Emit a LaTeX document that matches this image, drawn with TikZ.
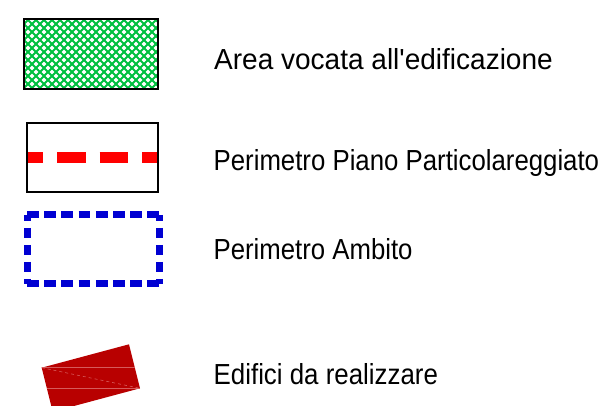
\documentclass[tikz,border=0pt]{standalone}
\usepackage{fontspec}
\setmainfont{Liberation Sans}
\definecolor{areagreen}{RGB}{0,192,64}
\definecolor{ppred}{RGB}{255,0,0}
\definecolor{ambblue}{RGB}{0,0,210}
\definecolor{edred}{RGB}{184,0,0}
\definecolor{edline}{RGB}{214,90,90}
\tikzset{
  lbl/.style={anchor=base west, inner sep=0pt, font=\fontsize{29}{34}\selectfont},
  frame/.style={black, line width=2pt},
  ambside/.style={ambblue, line width=7pt},
}
\begin{document}
\begin{tikzpicture}[x=1pt,y=-1pt]
\useasboundingbox (0,0) rectangle (606,406);

% area vocata: green crosshatch
\begin{scope}
\clip (24.3,19.3) rectangle (157.7,89.3);
\foreach \c in {-72,-64,...,144}
	\draw[areagreen, line width=2.1pt] (\c,0) -- ++(120,120);
\foreach \c in {40,48,...,256}
	\draw[areagreen, line width=2.1pt] (\c,0) -- ++(-120,120);
\end{scope}
\draw[frame] (24.3,19.3) rectangle (157.7,89.3);

% perimetro piano particolareggiato
\draw[ppred, line width=11pt, dash pattern=on 28.5pt off 14pt, dash phase=12.5pt] (27,157.5) -- (158.3,157.5);
\draw[frame] (27,122.7) rectangle (158.3,191.7);

% perimetro ambito
\draw[ambside, dash pattern=on 11.7pt off 5.5pt] (27,215) -- (159.1,215);
\draw[ambside, dash pattern=on 11.7pt off 5.5pt] (27,284) -- (159.1,284);
\draw[ambside, dash pattern=on 10pt off 7pt, dash phase=4pt] (27,215) -- (27,284);
\draw[ambside, dash pattern=on 10pt off 7pt, dash phase=4pt] (159,215) -- (159,284);

% edifici da realizzare
\fill[edred] (41.7,367.7) -- (129,344.3) -- (140,388.3) -- (52.7,411.7) -- cycle;
\draw[edline, line width=0.6pt] (41.7,367.7) -- (134.8,367.7);
\draw[edline, line width=0.6pt] (46.9,388.3) -- (140,388.3);
\draw[edline, line width=0.6pt, dashed] (41.7,367.7) -- (140,388.3);

\node[lbl, xscale=0.966] (area) at (214,69.3) {Area vocata all\textquotesingle edificazione};
\node[lbl, xscale=0.889] (ppp) at (213.5,171) {Perimetro Piano Particolareggiato};
\node[lbl, xscale=0.888] (amb) at (213.5,259.3) {Perimetro Ambito};
\node[lbl, xscale=0.892] (edi) at (213.5,384.3) {Edifici da realizzare};
\end{tikzpicture}
\end{document}
